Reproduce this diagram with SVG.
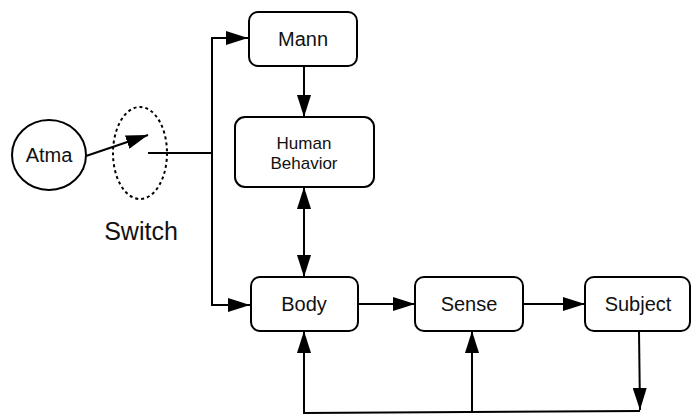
<svg xmlns="http://www.w3.org/2000/svg" width="691" height="416" viewBox="0 0 691 416">
<style>
.box{fill:#fff;stroke:#000;stroke-width:2}
.t{font-family:"Liberation Sans",Arial,sans-serif;fill:#111;text-anchor:middle}
.ln{fill:none;stroke:#000;stroke-width:2}
</style>
<defs>
<marker id="ah" viewBox="0 0 22 14" refX="22" refY="7" markerWidth="22" markerHeight="14" markerUnits="userSpaceOnUse" orient="auto-start-reverse">
<path d="M0,0 L22,7 L0,14 Z" fill="#000"/>
</marker>
</defs>
<rect width="691" height="416" fill="#fff"/>
<g id="atma">
<ellipse cx="49" cy="155" rx="37" ry="35" class="box"/>
<text x="49" y="162" class="t" font-size="20">Atma</text>
</g>
<g id="switch">
<ellipse cx="140" cy="153" rx="27" ry="46" fill="none" stroke="#000" stroke-width="2" stroke-dasharray="3,3"/>
<text x="141" y="240" class="t" font-size="25">Switch</text>
</g>
<g id="mann">
<rect x="249" y="12" width="108" height="54" rx="9" class="box"/>
<text x="303" y="46" class="t" font-size="20">Mann</text>
</g>
<g id="human">
<rect x="235" y="117" width="139" height="70" rx="10" class="box"/>
<text x="304" y="149" class="t" font-size="17">Human</text>
<text x="304" y="169" class="t" font-size="17">Behavior</text>
</g>
<g id="body">
<rect x="251" y="277" width="107" height="54" rx="9" class="box"/>
<text x="304" y="311" class="t" font-size="20">Body</text>
</g>
<g id="sense">
<rect x="415" y="277" width="108" height="54" rx="9" class="box"/>
<text x="469" y="311" class="t" font-size="20">Sense</text>
</g>
<g id="subject">
<rect x="585" y="277" width="105" height="54" rx="9" class="box"/>
<text x="638" y="311" class="t" font-size="20">Subject</text>
</g>
<g id="connectors">
<line x1="86" y1="156" x2="148" y2="135" class="ln" marker-end="url(#ah)"/>
<line x1="148" y1="153" x2="212" y2="153" class="ln"/>
<path d="M248,38 H212 V305 H250" class="ln" marker-start="url(#ah)" marker-end="url(#ah)"/>
<line x1="304" y1="66" x2="304" y2="117" class="ln" marker-end="url(#ah)"/>
<line x1="304" y1="187" x2="304" y2="277" class="ln" marker-start="url(#ah)" marker-end="url(#ah)"/>
<line x1="358" y1="304" x2="415" y2="304" class="ln" marker-end="url(#ah)"/>
<line x1="523" y1="304" x2="585" y2="304" class="ln" marker-end="url(#ah)"/>
<line x1="639" y1="331" x2="640" y2="410" class="ln" marker-end="url(#ah)"/>
<path d="M640,411 L304,413 V331" class="ln" marker-end="url(#ah)"/>
<line x1="472" y1="412" x2="472" y2="331" class="ln" marker-end="url(#ah)"/>
</g>
</svg>
